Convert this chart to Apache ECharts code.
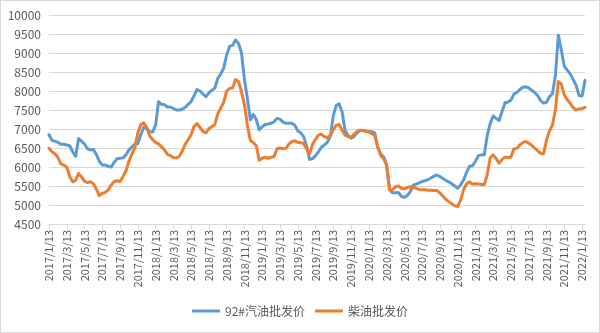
<!DOCTYPE html>
<html>
<head>
<meta charset="utf-8">
<script src="https://cdn.jsdelivr.net/npm/echarts@6/dist/echarts.min.js"></script>
<style>
  html, body { margin: 0; padding: 0; background: #fff; }
  #chart { width: 598px; height: 331px; border: 1px solid #D9D9D9; }
</style>
</head>
<body>
<div id="chart"></div>
<script>
// Price samples are taken three times a month (the 3rd, 13th and 23rd),
// starting 2017/1/13 and running to 2022/1/23.
const startYear = 2017, startMonth = 1, pointCount = 182;
const sampleDays = [13, 23, 3];

const seriesNames = ['92#汽油批发价', '柴油批发价'];

// 92# gasoline wholesale price (yuan/ton)
const gasoline = [
  6850, 6700, 6680, 6650, 6600, 6600, 6580, 6560, 6400, 6280,
  6750, 6680, 6600, 6480, 6450, 6460, 6330, 6150, 6050, 6050,
  6020, 6000, 6120, 6220, 6230, 6240, 6320, 6450, 6530, 6600,
  6620, 6850, 7050, 7020, 6930, 6920, 7100, 7720, 7650, 7640,
  7580, 7580, 7540, 7500, 7500, 7520, 7570, 7650, 7720, 7880,
  8040, 8000, 7920, 7850, 7950, 8020, 8080, 8330, 8450, 8600,
  8950, 9180, 9200, 9340, 9250, 9000, 8300, 7800, 7240, 7380,
  7250, 6980, 7060, 7120, 7130, 7150, 7190, 7280, 7260, 7180,
  7150, 7150, 7150, 7100, 6950, 6900, 6800, 6550, 6200, 6220,
  6300, 6400, 6520, 6580, 6650, 6800, 7350, 7620, 7660, 7450,
  6950, 6830, 6760, 6800, 6900, 6960, 6960, 6950, 6930, 6930,
  6900, 6520, 6350, 6270, 6050, 5400, 5320, 5320, 5330, 5230,
  5200, 5250, 5350, 5520, 5550, 5580, 5620, 5640, 5670, 5710,
  5760, 5790, 5750, 5700, 5650, 5610, 5560, 5500, 5440, 5530,
  5660, 5860, 6020, 6030, 6150, 6300, 6320, 6320, 6840, 7150,
  7340, 7280, 7220, 7460, 7690, 7710, 7760, 7920, 7960, 8040,
  8100, 8110, 8080, 8020, 7960, 7880, 7750, 7680, 7700, 7850,
  7930, 8400, 9470, 9080, 8650, 8550, 8450, 8300, 8150, 7880,
  7870, 8280
];

// Diesel wholesale price (yuan/ton)
const diesel = [
  6490, 6400, 6350, 6250, 6080, 6050, 6000, 5750, 5610, 5650,
  5830, 5740, 5620, 5590, 5610, 5560, 5420, 5250, 5310, 5330,
  5400, 5520, 5620, 5640, 5620, 5750, 5900, 6150, 6350, 6500,
  6900, 7120, 7160, 7040, 6820, 6720, 6650, 6610, 6530, 6450,
  6330, 6300, 6250, 6240, 6280, 6420, 6600, 6720, 6850, 7070,
  7140, 7040, 6930, 6900, 7010, 7060, 7120, 7400, 7550, 7700,
  8000, 8070, 8080, 8300, 8250, 7980, 7650, 7100, 6700, 6640,
  6560, 6180, 6230, 6260, 6230, 6260, 6270, 6480, 6500, 6480,
  6490, 6600, 6670, 6690, 6650, 6640, 6620, 6470, 6350, 6600,
  6730, 6840, 6860, 6800, 6770, 6830, 6980, 7100, 7120, 6970,
  6840, 6800, 6770, 6860, 6930, 6970, 6960, 6940, 6920, 6880,
  6830, 6520, 6300, 6220, 6060, 5400, 5400, 5480, 5500, 5440,
  5420, 5460, 5480, 5460, 5440, 5410, 5400, 5400, 5390, 5390,
  5380, 5380, 5320, 5230, 5150, 5090, 5030, 4980, 4960, 5130,
  5400, 5560, 5610, 5550, 5560, 5550, 5540, 5540, 5800, 6250,
  6320, 6220, 6100, 6200, 6260, 6250, 6260, 6480, 6490, 6580,
  6640, 6670, 6630, 6570, 6500, 6430, 6360, 6350, 6700, 6950,
  7100, 7500, 8250, 8180, 7900, 7770, 7680, 7560, 7500, 7530,
  7540, 7570
];

// Build the date labels: 13th, 23rd, then 3rd of the following month.
const dates = [];
{
  let y = startYear, m = startMonth, k = 0;
  for (let i = 0; i < pointCount; i++) {
    const d = sampleDays[k];
    if (d === 3) { m += 1; if (m > 12) { m = 1; y += 1; } }
    dates.push(y + '/' + m + '/' + d);
    k = (k + 1) % 3;
  }
}

const textColor = '#595959';
const gridColor = '#D9D9D9';
const font = '"Noto Sans CJK SC", "Microsoft YaHei", sans-serif';

const chart = echarts.init(document.getElementById('chart'));
chart.setOption({
  animation: false,
  grid: { left: 48, right: 14, top: 14, bottom: 108 },
  legend: {
    bottom: 10,
    left: 'center',
    itemWidth: 28,
    itemHeight: 3,
    itemGap: 10,
    icon: 'rect',
    textStyle: { color: textColor, fontSize: 12, fontFamily: font },
    data: seriesNames
  },
  xAxis: {
    type: 'category',
    boundaryGap: false,
    data: dates,
    axisLine: { lineStyle: { color: gridColor, width: 1 } },
    axisTick: { interval: 5, length: 5, lineStyle: { color: gridColor } },
    axisLabel: {
      interval: 5,
      rotate: 90,
      color: textColor,
      fontSize: 11,
      fontFamily: font,
      margin: 6
    }
  },
  yAxis: {
    type: 'value',
    min: 4500,
    max: 10000,
    interval: 500,
    axisLine: { show: false },
    axisTick: { show: false },
    axisLabel: {
      color: textColor, fontSize: 12, fontFamily: font, margin: 8,
      formatter: v => String(v)
    },
    splitLine: { lineStyle: { color: gridColor, width: 1 } }
  },
  series: [
    {
      name: seriesNames[0],
      type: 'line',
      data: gasoline,
      symbol: 'none',
      color: '#5B9BD5',
      lineStyle: { width: 3, color: '#5B9BD5', cap: 'round', join: 'round' }
    },
    {
      name: seriesNames[1],
      type: 'line',
      data: diesel,
      symbol: 'none',
      color: '#ED7D31',
      lineStyle: { width: 3, color: '#ED7D31', cap: 'round', join: 'round' }
    }
  ]
});
</script>
</body>
</html>
